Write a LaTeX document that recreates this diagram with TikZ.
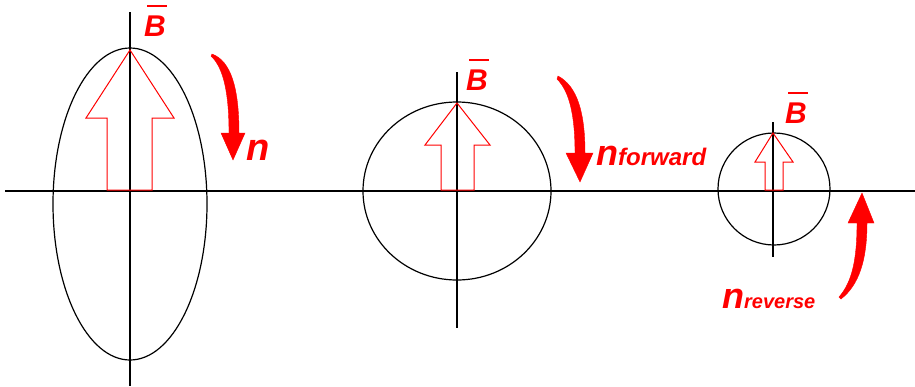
\documentclass[tikz,border=0pt]{standalone}
\usepackage{fontspec}
\setmainfont{Liberation Sans}
\newcommand\myBbar{\rlap{\hspace{3pt}\raisebox{29pt}{\rule{20pt}{2pt}}}B}
\begin{document}
\begin{tikzpicture}[x=1pt,y=-1pt,
  axis/.style={black, line width=1.3pt},
  orbit/.style={black, line width=1.2pt},
  blockarrow/.style={draw=red, line width=1pt, line join=miter},
  turnarrow/.style={fill=red, draw=red, line width=0.4pt},
  lbl/.style={text=red, font=\bfseries\itshape, inner sep=0pt, anchor=base west},
  bsize/.style={font=\fontsize{30}{32}\selectfont\bfseries\itshape}]
\useasboundingbox[fill=white] (0,0) rectangle (915,386);

% axes
\draw[axis] (5,191) -- (915,191);
\draw[axis] (130,12) -- (130,386);
\draw[axis] (457,72) -- (457,328);
\draw[axis] (773,122) -- (773,257);

% orbits
\draw[orbit] (130,204) ellipse [x radius=77pt, y radius=156pt];
\draw[orbit] (457,191) ellipse [x radius=94pt, y radius=89pt];
\draw[orbit] (774,189) ellipse [x radius=56pt, y radius=56pt];

% block arrows (B vectors)
\draw[blockarrow] (130,50) -- (174,118) -- (152,118) -- (152,190) -- (107,190) -- (107,118) -- (86,118) -- cycle;
\draw[blockarrow] (457,103) -- (490,145) -- (474,145) -- (474,190) -- (441,190) -- (441,145) -- (425,145) -- cycle;
\draw[blockarrow] (773,133) -- (793,162) -- (783,162) -- (783,190) -- (765,190) -- (765,162) -- (755,162) -- cycle;

% B labels
\node[lbl, bsize] (b1) at (144,36) {\myBbar};
\node[lbl, bsize] (b2) at (466,90) {\myBbar};
\node[lbl, bsize] (b3) at (785,123) {\myBbar};

% turning arrows
\coordinate (t1) at (233,160);
\coordinate (t2) at (580,182);
\coordinate (t3) at (862,193);
\fill[turnarrow] (212,54) .. controls (231,61) and (239,88) .. (239,133)
  -- (245,133) -- (t1) -- (221,133) -- (229,133)
  .. controls (229,95) and (224,68) .. (211,56) -- cycle;
\fill[turnarrow] (558,76) .. controls (577,86) and (585,112) .. (585,153)
  -- (593,153) -- (t2) -- (566,153) -- (575,153)
  .. controls (575,117) and (570,92) .. (557,79) -- cycle;
\fill[turnarrow] (t3) -- (874,223) -- (867,223)
  .. controls (867,260) and (859,285) .. (841,299)
  -- (839,297) .. controls (852,282) and (857,260) .. (857,223)
  -- (848,223) -- cycle;

% n labels
\node[lbl, font=\fontsize{38}{40}\selectfont\bfseries\itshape] (n1) at (246,160) {n};
\node[lbl] (n2) at (596,165) {{\fontsize{36}{38}\selectfont n}{\fontsize{24}{26}\selectfont forward}};
\node[lbl] (n3) at (722,308) {{\fontsize{36}{38}\selectfont n}{\fontsize{20}{22}\selectfont reverse}};
\end{tikzpicture}
\end{document}
